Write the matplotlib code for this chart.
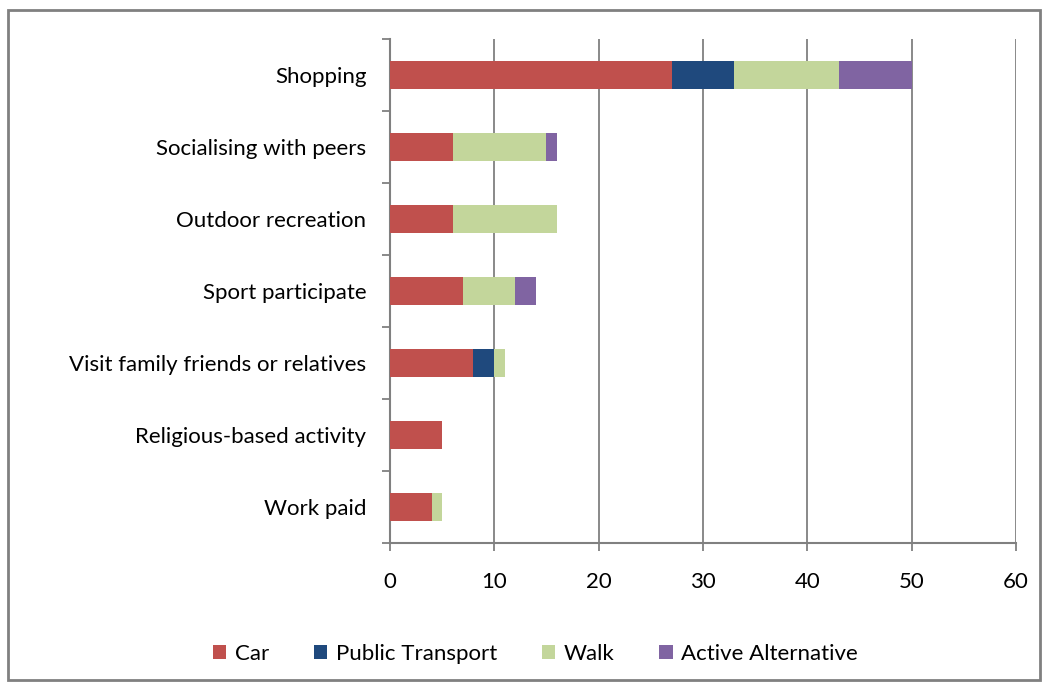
import matplotlib.pyplot as plt
from matplotlib.patches import Rectangle

plt.rcParams['font.family'] = ['Lato', 'DejaVu Sans']

# categories top to bottom
categories = ["Shopping", "Socialising with peers", "Outdoor recreation",
              "Sport participate", "Visit family friends or relatives",
              "Religious-based activity", "Work paid"]
car = [27, 6, 6, 7, 8, 5, 4]
public_transport = [6, 0, 0, 0, 2, 0, 0]
walk = [10, 9, 10, 5, 1, 0, 1]
active = [7, 1, 0, 2, 0, 0, 0]

series_names = ["Car", "Public Transport", "Walk", "Active Alternative"]
colors = ["#C0504D", "#1F497D", "#C3D69B", "#8064A2"]


def main():
    fig = plt.figure(figsize=(10.48, 6.89), dpi=100)
    ax = fig.add_axes([0.3721, 0.2119, 0.5973, 0.7315])

    # outer chart border
    fig.patches.append(Rectangle((8 / 1048, 9 / 689), 1032 / 1048, 670 / 689,
                                 transform=fig.transFigure, fill=False,
                                 edgecolor="#808080", linewidth=2))

    ypos = list(range(len(categories)))
    left = [0] * len(categories)
    for vals, name, col in zip([car, public_transport, walk, active], series_names, colors):
        ax.barh(ypos, vals, left=left, height=0.4, color=col, label=name, zorder=3)
        left = [a + b for a, b in zip(left, vals)]

    ax.set_ylim(len(categories) - 0.5, -0.5)
    ax.set_xlim(0, 60)
    ax.set_xticks(range(0, 61, 10))
    ax.set_yticks([y - 0.5 for y in range(len(categories) + 1)], minor=False)
    ax.set_yticklabels([])
    ax.set_yticks(ypos, minor=True)
    ax.set_yticklabels(categories, minor=True)
    ax.tick_params(axis="y", which="minor", length=0, pad=17, labelsize=16)
    ax.tick_params(axis="y", which="major", length=6, width=1.3, color="#808080", direction="out")
    ax.tick_params(axis="x", length=6, width=1.3, color="#808080", direction="out", pad=15, labelsize=16)

    ax.grid(axis="x", color="#808080", linewidth=1.3, zorder=0)
    for s in ["top", "right"]:
        ax.spines[s].set_visible(False)
    for s in ["left", "bottom"]:
        ax.spines[s].set_color("#808080")
        ax.spines[s].set_linewidth(1.5)

    fig.legend(loc="center", bbox_to_anchor=(0.511, 0.051), ncol=4, frameon=False,
               fontsize=16, handlelength=0.6, handleheight=0.6, handletextpad=0.4,
               columnspacing=2.0)

    fig.savefig("out.png", dpi=100)


if __name__ == "__main__":
    main()
